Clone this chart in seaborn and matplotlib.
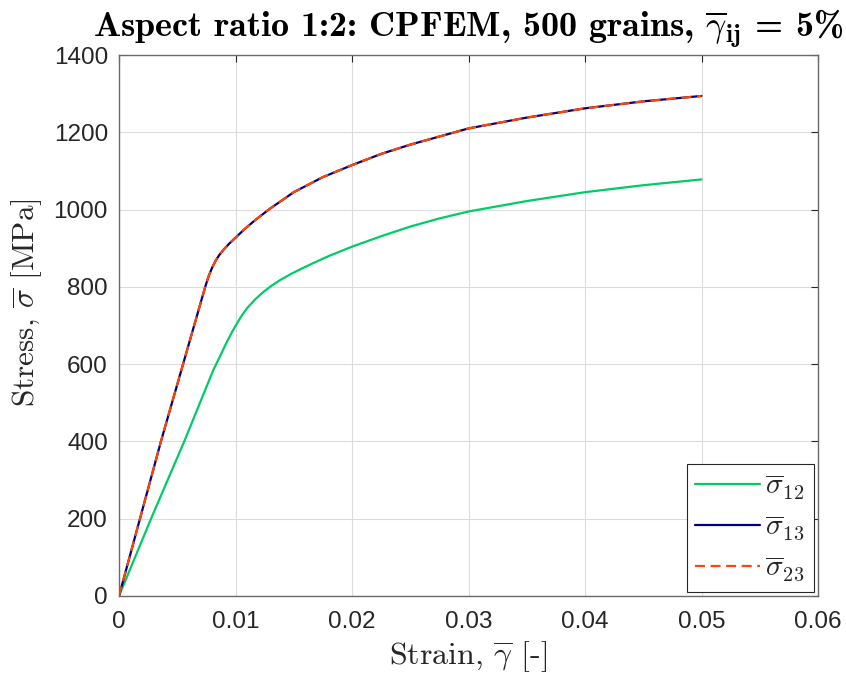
import os
import numpy as np
import pandas as pd
import matplotlib
matplotlib.use("Agg")
import matplotlib.pyplot as plt
from matplotlib import font_manager
import seaborn as sns

# ---- data ----
strain_13 = [0, 0.0018, 0.0036, 0.0055, 0.0074, 0.0077, 0.0080, 0.0083, 0.0086, 0.0090,
             0.0095, 0.0101, 0.0108, 0.0117, 0.0129, 0.0150, 0.0175, 0.0200, 0.0225,
             0.0250, 0.0300, 0.0350, 0.0400, 0.0450, 0.0500]
stress_13 = [0, 200, 400, 600, 800, 828, 850, 868, 882, 897,
             913, 930, 950, 973, 1001, 1045, 1084, 1115, 1144,
             1168, 1210, 1238, 1262, 1280, 1294]
strain_12 = [0, 0.00275, 0.0056, 0.0071, 0.0081, 0.0087, 0.0092, 0.0097, 0.0101, 0.0105,
             0.0110, 0.0117, 0.0124, 0.0131, 0.0138, 0.0148, 0.0158, 0.0170, 0.0181,
             0.0200, 0.0225, 0.0250, 0.0275, 0.0300, 0.0350, 0.0400, 0.0450, 0.0500]
stress_12 = [0, 200, 400, 511, 585, 622, 654, 683, 704, 724,
             745, 768, 787, 803, 817, 834, 849, 866, 881,
             904, 931, 956, 977, 995, 1022, 1045, 1063, 1078]
series_labels = [r"$\overline{\sigma}_{12}$", r"$\overline{\sigma}_{13}$", r"$\overline{\sigma}_{23}$"]
xticks = [0, 0.01, 0.02, 0.03, 0.04, 0.05, 0.06]
xticklabels = ["0", "0.01", "0.02", "0.03", "0.04", "0.05", "0.06"]
yticks = [0, 200, 400, 600, 800, 1000, 1200, 1400]

sns.set_theme(style="white")
ttf_dir = os.path.join(matplotlib.get_data_path(), "fonts", "ttf")
for f in ("cmr10.ttf", "cmb10.ttf"):
    p = os.path.join(ttf_dir, f)
    if os.path.exists(p):
        font_manager.fontManager.addfont(p)
plt.rcParams["font.family"] = ["Liberation Sans", "DejaVu Sans"]
plt.rcParams["mathtext.fontset"] = "cm"
plt.rcParams["axes.formatter.use_mathtext"] = False

df12 = pd.DataFrame({"strain": strain_12, "stress": stress_12})
df13 = pd.DataFrame({"strain": strain_13, "stress": stress_13})

fig = plt.figure(figsize=(8.46, 6.75), dpi=100)
ax = fig.add_axes([119 / 846, (675 - 596) / 675, 699 / 846, 541 / 675])

sns.lineplot(data=df12, x="strain", y="stress", ax=ax, color="#00CC66", lw=1.6,
             sort=False, label=series_labels[0])
sns.lineplot(data=df13, x="strain", y="stress", ax=ax, color="#000080", lw=1.6,
             sort=False, label=series_labels[1])
sns.lineplot(data=df13, x="strain", y="stress", ax=ax, color="#FF4500", lw=1.6,
             sort=False, label=series_labels[2], linestyle="--")
ax.lines[-1].set_dashes((4.5, 2.5))

ax.set_xlim(0, 0.06)
ax.set_ylim(0, 1400)
ax.set_xticks(xticks)
ax.set_xticklabels(xticklabels)
ax.set_yticks(yticks)
ax.grid(True, color="#dcdcdc", lw=0.8)
ax.set_axisbelow(True)
for s in ax.spines.values():
    s.set_color("#6a6a6a")
    s.set_linewidth(1.0)
ax.tick_params(direction="in", length=5, width=0.8, color="#262626",
               labelsize=17.5, labelcolor="#262626", top=True, right=True)
ax.tick_params(axis="x", pad=11)
ax.tick_params(axis="y", pad=8)

ax.set_xlabel(r"Strain, $\overline{\gamma}$ [-]", fontsize=23, labelpad=4,
              color="#262626", family=["cmr10", "DejaVu Serif"])
ax.set_ylabel(r"Stress, $\overline{\sigma}$ [MPa]", fontsize=22.5,
              color="#262626", family=["cmr10", "DejaVu Serif"])
ax.yaxis.set_label_coords(-0.107, (596 - 303) / 541)
ax.set_title(r"Aspect ratio 1:2: CPFEM, 500 grains, $\overline{\gamma}_{\mathbf{ij}}$ = 5%",
             fontsize=26, pad=13, color="black", family=["cmb10", "DejaVu Serif"])

leg = ax.legend(loc="lower right", fontsize=21, frameon=True, fancybox=False,
                framealpha=1, edgecolor="#262626", borderpad=0.3, handlelength=2.2,
                labelspacing=0.4, borderaxespad=0.15, handletextpad=0.2)
leg.get_frame().set_linewidth(0.8)

fig.savefig("out.png", dpi=100)
